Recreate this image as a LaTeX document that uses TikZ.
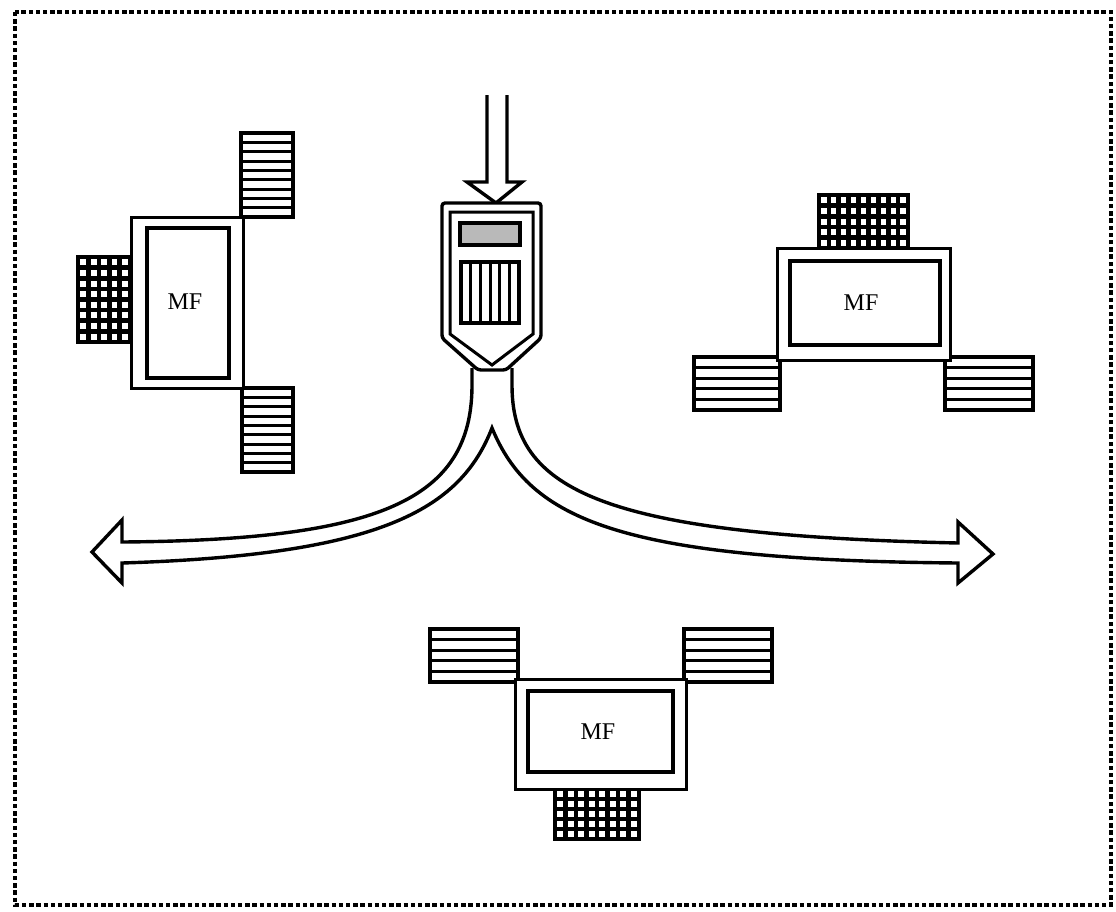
\documentclass[tikz,border=0pt]{standalone}
\usepackage{fontspec}
\setmainfont{Liberation Serif}
\begin{document}
\begin{tikzpicture}[x=1pt,y=-1pt,
  frameout/.style={draw=black,fill=white,line width=3pt},
  framein/.style={draw=black,fill=white,line width=4.5pt},
  gline/.style={line width=4.6pt,black},
  gborder/.style={line width=3.5pt,black},
  hline/.style={line width=3pt,black},
  hborder/.style={line width=3.5pt,black},
  fork/.style={draw=black,fill=white,line width=3.4pt,line join=miter},
  mf/.style={font=\fontsize{24}{24}\selectfont,inner sep=0pt},
  border/.style={line width=4.6pt,dash pattern=on 4.4pt off 2.8pt}
]
\newcommand\gridblk[6]{%
  \fill[white] (#1,#2) rectangle (#3,#4);
  \pgfmathsetmacro\gbdx{(#3-#1)/#5}%
  \pgfmathsetmacro\gbdy{(#4-#2)/#6}%
  \pgfmathtruncatemacro\gbnc{#5-1}%
  \pgfmathtruncatemacro\gbnr{#6-1}%
  \foreach \i in {1,...,\gbnc} {\draw[gline] ({#1+\i*\gbdx},#2) -- ({#1+\i*\gbdx},#4);}
  \foreach \j in {1,...,\gbnr} {\draw[gline] (#1,{#2+\j*\gbdy}) -- (#3,{#2+\j*\gbdy});}
  \draw[gborder] (#1,#2) rectangle (#3,#4);
}
\newcommand\hatchblk[5]{%
  \fill[white] (#1,#2) rectangle (#3,#4);
  \pgfmathsetmacro\hbdy{(#4-#2)/(#5+1)}%
  \foreach \j in {1,...,#5} {\draw[hline] (#1,{#2+\j*\hbdy}) -- (#3,{#2+\j*\hbdy});}
  \draw[hborder] (#1,#2) rectangle (#3,#4);
}
\useasboundingbox (0,0) rectangle (1116,911);
\fill[white] (0,0) rectangle (1116,911);
% dotted frame
\draw[border] (15,12) rectangle (1111,905);

% ---- left unit
\hatchblk{241}{133}{293}{217}{8}
\hatchblk{242}{388}{293}{472}{8}
\gridblk{78}{257}{130}{342}{5}{8}
\draw[frameout] (131,217) rectangle (243,388);
\draw[framein] (147,228) rectangle (229,378);
\node[mf] (mfL) at (185,302) {MF};

% ---- right unit
\gridblk{819}{195}{908}{248}{9}{5}
\hatchblk{694}{357}{780}{410}{4}
\hatchblk{945}{357}{1033}{410}{4}
\draw[frameout] (777,248) rectangle (950,360);
\draw[framein] (790,261) rectangle (940,345);
\node[mf] (mfR) at (861,303) {MF};

% ---- bottom unit
\hatchblk{430}{629}{518}{682}{4}
\hatchblk{684}{629}{772}{682}{4}
\gridblk{555}{789}{639}{839}{8}{5}
\draw[frameout] (515,679) rectangle (686,789);
\draw[framein] (528,691) rectangle (673,772);
\node[mf] (mfB) at (598,732) {MF};

% ---- forked double arrow
\draw[fork] (472,368) -- (472,385)
  .. controls (472,500) and (380,540) .. (122,542)
  -- (122,520) -- (92,552) -- (122,583) -- (122,563)
  .. controls (380,555) and (460,510) .. (492,428)
  .. controls (530,520) and (620,560) .. (958,563)
  -- (958,583) -- (993,554) -- (958,522) -- (958,543)
  .. controls (600,535) and (512,490) .. (512,385)
  -- (512,368);

% ---- input arrow
\draw[fork] (487,95) -- (487,182) -- (467,182) -- (496,203)
  -- (522,182) -- (507,182) -- (507,95);

% ---- shield
\draw[frameout,line width=3.4pt,rounded corners=3pt] (442,203) -- (541,203) -- (541,338)
  -- (506,370) -- (478,370) -- (442,338) -- cycle;
\draw[draw=black,line width=3pt] (450,212) -- (533,212) -- (533,334)
  -- (492,365) -- (450,334) -- cycle;
\draw[line width=3.4pt,fill=gray!55] (460,223) rectangle (520,245);
\draw[line width=4pt] (461,262) rectangle (519,323);
\foreach \vx in {470.7,480.3,490,499.7,509.3} {\draw[line width=3pt] (\vx,262) -- (\vx,323);}
\end{tikzpicture}
\end{document}
